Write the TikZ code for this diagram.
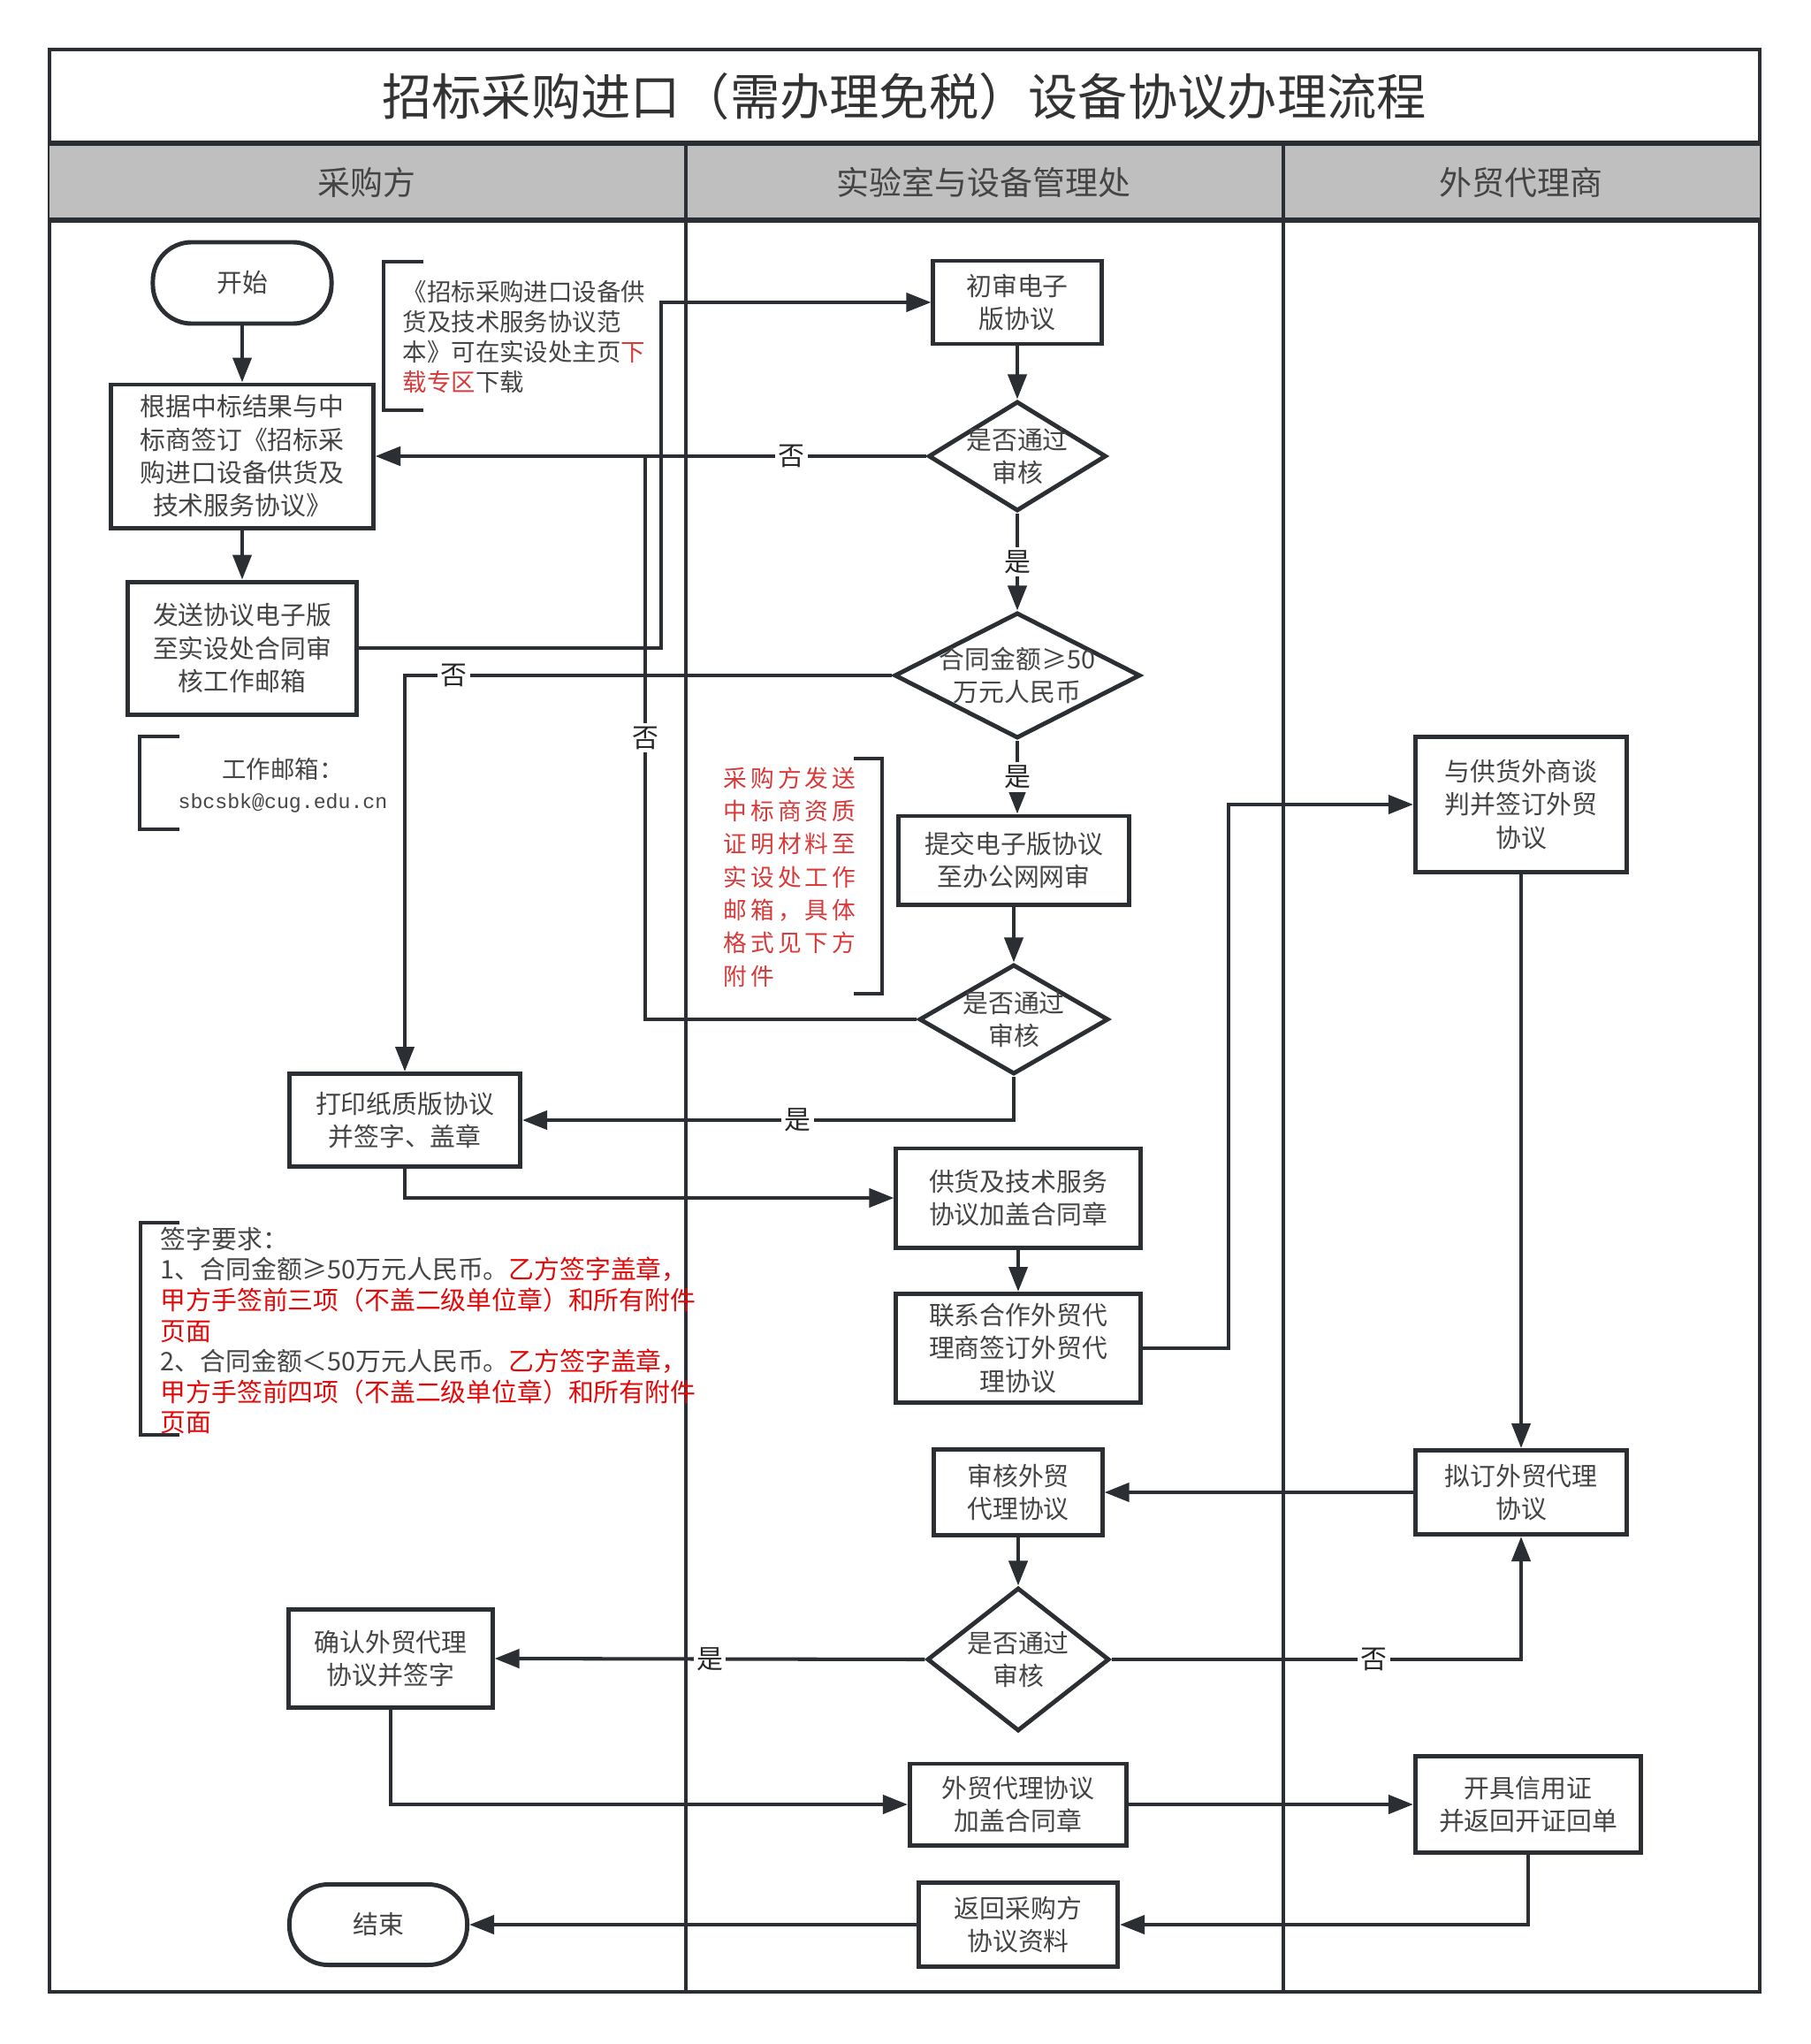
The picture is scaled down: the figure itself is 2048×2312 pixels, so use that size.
\documentclass[tikz,border=0pt]{standalone}
\usepackage{fontspec}
\setmainfont{Noto Sans CJK SC}
\newfontfamily\monofont{Liberation Mono}
\newfontfamily\spacedfont[LetterSpace=15]{Noto Sans CJK SC}
\usepackage{tikz}
\usetikzlibrary{shapes.geometric,arrows.meta,positioning}
\definecolor{linec}{RGB}{43,46,51}
\definecolor{txtc}{RGB}{68,68,68}
\definecolor{headc}{RGB}{191,191,191}
\definecolor{notered}{RGB}{214,58,58}
\definecolor{reqred}{RGB}{225,10,10}

\begin{document}
\begin{tikzpicture}[x=0.01cm, y=-0.01cm, >={Triangle[length=0.28cm,width=0.21cm]},
  every node/.style={text=txtc, inner sep=0pt},
  proc/.style={draw=linec, line width=1.4pt, fill=white, rectangle, align=center, font=\fontsize{8.2}{10.6}\selectfont},
  term/.style={proc, rounded corners=12.5pt},
  decide/.style={draw=linec, line width=1.4pt, fill=white, diamond},
  dtext/.style={align=center, text=txtc, font=\fontsize{8.2}{10.6}\selectfont},
  lab/.style={fill=white, text=black!85, font=\fontsize{8.5}{9}\selectfont, inner sep=1pt},
  flow/.style={draw=linec, line width=1.15pt},
  note/.style={align=left, font=\fontsize{7.8}{9.7}\selectfont},
  bracket/.style={draw=linec, line width=1.15pt}]
  \useasboundingbox (0,0) rectangle (2048,2312);

  \draw[linec, line width=1.15pt] (56,56) rectangle (1991,2253);
  \fill[headc] (56,162) rectangle (1991,249);
  \draw[linec, line width=1.7pt] (56,162) -- (1991,162) (56,249) -- (1991,249);
  \draw[linec, line width=1.15pt] (776,162) -- (776,2253) (1452,162) -- (1452,2253);

  \node[font=\fontsize{16}{18}\selectfont, text=black!80] (title) at (1023,109) {招标采购进口（需办理免税）设备协议办理流程};
  \node[font=\fontsize{10.5}{12}\selectfont] (laneA) at (415,206) {采购方};
  \node[font=\fontsize{10.5}{12}\selectfont] (laneB) at (1113,206) {实验室与设备管理处};
  \node[font=\fontsize{10.5}{12}\selectfont] (laneC) at (1721,206) {外贸代理商};

  \node[term, minimum width=2.02cm, minimum height=0.92cm] (start) at (274,320) {开始};
  \node[proc, minimum width=2.97cm, minimum height=1.62cm, below=0.64cm of start] (sign) {根据中标结果与中\\标商签订《招标采\\购进口设备供货及\\技术服务协议》};
  \node[proc, minimum width=2.59cm, minimum height=1.50cm, below=0.56cm of sign] (send) {发送协议电子版\\至实设处合同审\\核工作邮箱};
  \node[proc, minimum width=1.90cm, minimum height=0.94cm] (check) at (1151,342) {初审电子\\版协议};
  \node[decide, minimum width=2.01cm, minimum height=1.24cm, label={[dtext]center:{是否通过\\审核}}] (ok1) at (1151,516) {};
  \node[decide, minimum width=2.78cm, minimum height=1.42cm, label={[dtext]center:{合同金额≥50\\万元人民币}}] (amount) at (1151,764) {};
  \node[proc, minimum width=2.60cm, minimum height=1.00cm] (submit) at (1147,973) {提交电子版协议\\至办公网网审};
  \node[decide, minimum width=2.14cm, minimum height=1.24cm, label={[dtext]center:{是否通过\\审核}}] (ok2) at (1147,1153) {};
  \node[proc, minimum width=2.61cm, minimum height=1.05cm] (print) at (458,1267) {打印纸质版协议\\并签字、盖章};
  \node[proc, minimum width=2.76cm, minimum height=1.12cm] (seal) at (1152,1355) {供货及技术服务\\协议加盖合同章};
  \node[proc, minimum width=2.76cm, minimum height=1.23cm] (contact) at (1152,1525) {联系合作外贸代\\理商签订外贸代\\理协议};
  \node[proc, minimum width=2.39cm, minimum height=1.53cm] (negotiate) at (1721,910) {与供货外商谈\\判并签订外贸\\协议};
  \node[proc, minimum width=1.90cm, minimum height=0.97cm] (review) at (1152,1688) {审核外贸\\代理协议};
  \node[proc, minimum width=2.39cm, minimum height=0.95cm] (draft) at (1721,1688) {拟订外贸代理\\协议};
  \node[decide, minimum width=2.06cm, minimum height=1.62cm, label={[dtext]center:{是否通过\\审核}}] (ok3) at (1152,1877) {};
  \node[proc, minimum width=2.30cm, minimum height=1.11cm] (confirm) at (442,1876) {确认外贸代理\\协议并签字};
  \node[proc, minimum width=2.45cm, minimum height=0.92cm] (stamp) at (1152,2041) {外贸代理协议\\加盖合同章};
  \node[proc, minimum width=2.55cm, minimum height=1.09cm] (credit) at (1729,2041) {开具信用证\\并返回开证回单};
  \node[proc, minimum width=2.25cm, minimum height=0.95cm] (back) at (1152,2177) {返回采购方\\协议资料};
  \node[term, minimum width=2.01cm, minimum height=0.91cm] (end) at (428,2177) {结束};

  \draw[bracket] (479,296) -- (434,296) -- (434,464) -- (479,464);
  \node[note, anchor=west] (tplnote) at (455,381) {《招标采购进口设备供\\货及技术服务协议范\\本》可在实设处主页\textcolor{notered}{下}\\\textcolor{notered}{载专区}下载};
  \draw[bracket] (203,833) -- (158,833) -- (158,938) -- (203,938);
  \node[note, align=center] (mailnote) at (320,888) {工作邮箱：\\{\monofont\fontsize{6.6}{9.7}\selectfont sbcsbk@cug.edu.cn}};
  \draw[bracket] (966,858) -- (998,858) -- (998,1124) -- (966,1124);
  \node[note, anchor=west, text=notered, font=\spacedfont\fontsize{7.6}{10.6}\selectfont] (qualnote) at (818,992) {采购方发送\\中标商资质\\证明材料至\\实设处工作\\邮箱，具体\\格式见下方\\附件};
  \draw[bracket] (203,1383) -- (159,1383) -- (159,1623) -- (203,1623);
  \node[note, anchor=west, font=\fontsize{8.2}{9.85}\selectfont] (signnote) at (181,1505) {签字要求：\\1、合同金额≥50万元人民币。\textcolor{reqred}{乙方签字盖章，}\\\textcolor{reqred}{甲方手签前三项（不盖二级单位章）和所有附件}\\\textcolor{reqred}{页面}\\2、合同金额＜50万元人民币。\textcolor{reqred}{乙方签字盖章，}\\\textcolor{reqred}{甲方手签前四项（不盖二级单位章）和所有附件}\\\textcolor{reqred}{页面}};

  \coordinate (sendbend) at (748,342);
  \coordinate (nojoin) at (730,516);
  \coordinate (cbend) at (1390,910);

  \draw[flow,->] (start) -- (sign);
  \draw[flow,->] (sign) -- (send);
  \draw[flow,->] (send.east) -| (sendbend) -- (check.west);
  \draw[flow,->] (check) -- (ok1);
  \draw[flow,->] (ok1.west) -- (ok1.west -| sign.east) node[lab,pos=0.245] {否};
  \draw[flow,->] (ok1.south) -- (amount.north) node[lab,midway] {是};
  \draw[flow,->] (amount.west) -| (print.north) node[lab,pos=0.45] {否};
  \draw[flow,->] (amount.south) -- (amount.south |- submit.north) node[lab,midway] {是};
  \draw[flow,->] (submit) -- (ok2);
  \draw[flow,->] (ok2.west) -| (nojoin) node[lab,pos=0.75] {否} -- (nojoin -| sign.east);
  \draw[flow,->] (ok2.south) |- (print.east) node[lab,pos=0.72] {是};
  \draw[flow,->] (print.south) |- (seal.west);
  \draw[flow,->] (seal) -- (contact);
  \draw[flow,->] (contact.east) -| (cbend) -- (negotiate.west);
  \draw[flow,->] (negotiate) -- (draft);
  \draw[flow,->] (draft) -- (review);
  \draw[flow,->] (review) -- (ok3);
  \draw[flow,->] (ok3.west) -- (confirm.east) node[lab,midway] {是};
  \draw[flow,->] (ok3.east) -| (draft.south) node[lab,pos=0.32] {否};
  \draw[flow,->] (confirm.south) |- (stamp.west);
  \draw[flow,->] (stamp) -- (credit);
  \draw[flow,->] (credit.south) |- (back.east);
  \draw[flow,->] (back) -- (end);
\end{tikzpicture}
\end{document}
